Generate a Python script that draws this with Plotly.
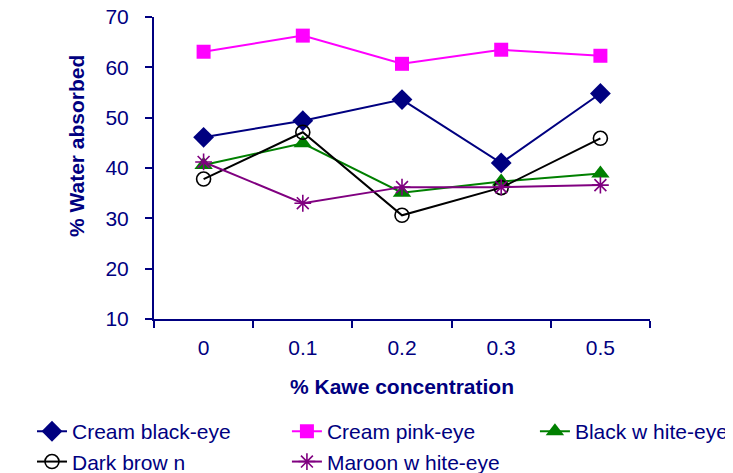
import plotly.graph_objects as go

categories = ["0", "0.1", "0.2", "0.3", "0.5"]
cream_black_eye = [46.1, 49.4, 53.6, 41.0, 54.8]
cream_pink_eye = [63.1, 66.3, 60.7, 63.5, 62.3]
black_white_eye = [40.6, 44.9, 35.1, 37.3, 38.9]
dark_brown = [37.8, 47.1, 30.6, 36.1, 45.9]
maroon_white_eye = [41.2, 33.0, 36.2, 36.2, 36.6]

NAVY = "#000080"
FONT = "Liberation Sans, Arial, sans-serif"

series = [
    ("Cream black-eye", cream_black_eye, NAVY, "diamond", 16, None, "legend"),
    ("Cream pink-eye", cream_pink_eye, "#FF00FF", "square", 14, None, "legend2"),
    ("Black w hite-eye", black_white_eye, "#008000", "triangle-up", 16, None, "legend3"),
    ("Dark brow n", dark_brown, "#000000", "circle-open", 14, 1.6, "legend"),
    ("Maroon w hite-eye", maroon_white_eye, "#800080", "asterisk-open", 14, 1.6, "legend2"),
]

fig = go.Figure()
for name, vals, color, sym, size, lw, leg in series:
    marker = dict(symbol=sym, size=size, color=color)
    if lw:
        marker["line"] = dict(color=color, width=lw)
    fig.add_trace(go.Scatter(
        x=categories, y=vals, name=name, mode="lines+markers",
        line=dict(color=color, width=2), marker=marker, legend=leg,
    ))

def leg(x):
    return dict(
        orientation="v", x=x, xanchor="left", y=-0.305, yanchor="top",
        font=dict(family=FONT, size=21, color=NAVY),
        tracegroupgap=0, itemwidth=30, bgcolor="rgba(0,0,0,0)",
    )

fig.update_layout(
    width=733, height=473,
    margin=dict(l=146, r=91, t=9, b=162, autoexpand=False),
    paper_bgcolor="white", plot_bgcolor="white",
    font=dict(family=FONT, color=NAVY, size=20),
    showlegend=True,
    legend=leg(-0.246),
    legend2=leg(0.268),
    legend3=leg(0.768),
    xaxis=dict(
        type="category", range=[-0.5, 4.5], tickson="boundaries",
        showline=True, linecolor=NAVY, linewidth=2,
        ticks="outside", ticklen=7, tickcolor=NAVY, tickwidth=2,
        showgrid=False, zeroline=False, automargin=False,
        tickfont=dict(size=21, color=NAVY), ticklabelstandoff=9,
        title=dict(text="<b>% Kawe concentration</b>", font=dict(size=21, color=NAVY), standoff=21),
    ),
    yaxis=dict(
        range=[10, 70], dtick=10, tick0=10,
        showline=True, linecolor=NAVY, linewidth=2,
        ticks="outside", ticklen=7, tickcolor=NAVY, tickwidth=2,
        showgrid=False, zeroline=False, automargin=False,
        ticklabeloverflow="allow",
        tickfont=dict(size=21, color=NAVY), ticklabelstandoff=12,
    ),
    annotations=[dict(
        text="<b>% Water absorbed</b>", textangle=-90,
        xref="paper", yref="paper", x=-0.155, y=0.573,
        xanchor="center", yanchor="middle", showarrow=False,
        font=dict(family=FONT, size=21, color=NAVY),
    )],
)

fig.write_html("out.html")
